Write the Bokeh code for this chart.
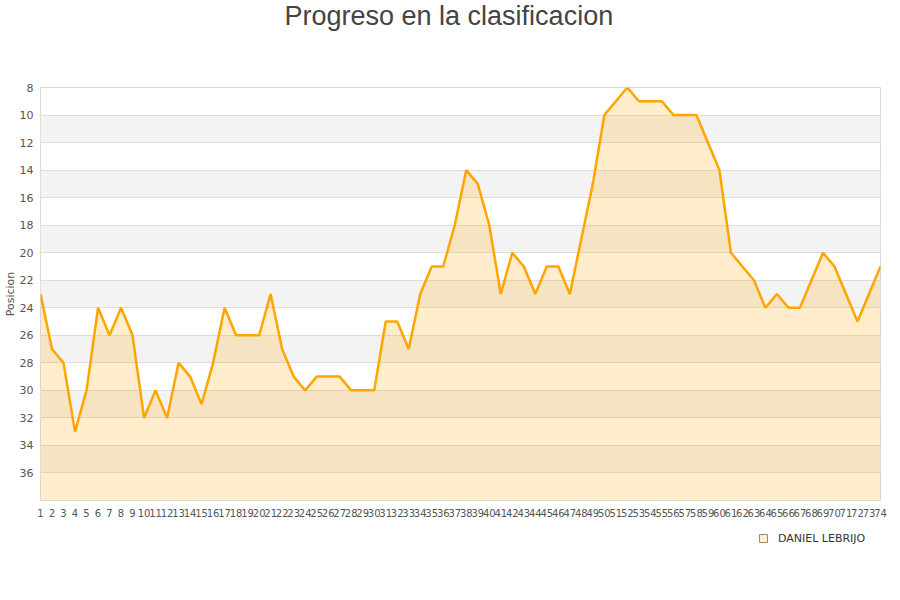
from bokeh.embed import file_html
from bokeh.layouts import column
from bokeh.models import FixedTicker, Legend, LegendItem, Range1d, Title
from bokeh.plotting import figure
from bokeh.resources import INLINE

# jornadas and position in the table after each one
jornadas = list(range(1, 75))
posiciones = [23, 27, 28, 33, 30, 24, 26, 24, 26, 32,
              30, 32, 28, 29, 31, 28, 24, 26, 26, 26,
              23, 27, 29, 30, 29, 29, 29, 30, 30, 30,
              25, 25, 27, 23, 21, 21, 18, 14, 15, 18,
              23, 20, 21, 23, 21, 21, 23, 19, 15, 10,
              9, 8, 9, 9, 9, 10, 10, 10, 12, 14,
              20, 21, 22, 24, 23, 24, 24, 22, 20, 21,
              23, 25, 23, 21]
y_ticks = list(range(8, 37, 2))
y_min, y_max = 8, 38
jugador = 'DANIEL LEBRIJO'
titulo = 'Progreso en la clasificacion'

fondo = [y_max]*len(jornadas)
naranja = '#ffa500'

p = figure(width=892, height=528,
           x_range=Range1d(jornadas[0], jornadas[-1]),
           y_range=Range1d(y_max, y_min),
           output_backend='svg', toolbar_location=None,
           min_border_left=40, min_border_right=12,
           min_border_top=87, min_border_bottom=28)

# empty title used as a spacer, then the real title on top of it
p.add_layout(Title(text=' ', text_font_size='1px', standoff=52), 'above')
p.add_layout(Title(text=titulo, text_font='Liberation Sans',
                   text_font_size='27px', text_font_style='normal',
                   text_color='#444444', align='left', offset=244,
                   vertical_align='top', standoff=0), 'above')

p.outline_line_color = '#d9d9d9'
p.background_fill_color = 'white'
p.border_fill_color = 'white'

p.xgrid.visible = False
p.ygrid.grid_line_color = '#dddddd'
p.ygrid.band_fill_color = '#f3f3f3'
p.ygrid.band_fill_alpha = 1.0

p.xaxis.ticker = FixedTicker(ticks=jornadas)
p.yaxis.ticker = FixedTicker(ticks=y_ticks)
for ax in (p.xaxis, p.yaxis):
    ax.axis_line_color = None
    ax.major_tick_line_color = None
    ax.minor_tick_line_color = None
    ax.major_tick_out = 0
    ax.major_tick_in = 0
    ax.major_label_text_font = 'DejaVu Sans'
    ax.major_label_text_color = '#555555'
p.xaxis.major_label_text_font_size = '10px'
p.xaxis.major_label_standoff = 8
p.yaxis.major_label_text_font_size = '11px'
p.yaxis.major_label_standoff = 7
p.yaxis.axis_label = 'Posicion'
p.yaxis.axis_label_text_font = 'DejaVu Sans'
p.yaxis.axis_label_text_font_size = '11px'
p.yaxis.axis_label_text_font_style = 'normal'
p.yaxis.axis_label_text_color = '#555555'
p.yaxis.axis_label_standoff = 0

p.varea(x=jornadas, y1=posiciones, y2=fondo,
        fill_color=naranja, fill_alpha=0.2)
p.line(jornadas, posiciones, line_color=naranja, line_width=2.5)

# legend strip under the chart
q = figure(width=892, height=64, output_backend='svg',
           toolbar_location=None, x_axis_location=None,
           y_axis_location=None, min_border=0)
q.outline_line_color = None
q.grid.visible = False
# invisible points, only there to give the legend its square
marca = q.scatter(jornadas, posiciones, marker='square', size=0,
                  fill_color='#ffedcc', line_color='#9c8a6e')
legend = Legend(items=[LegendItem(label=jugador, renderers=[marca])],
                location=(713, 44), padding=0, margin=0,
                glyph_width=20, glyph_height=20, label_standoff=5,
                border_line_color=None, background_fill_alpha=0,
                label_text_font='DejaVu Sans', label_text_font_size='11px',
                label_text_color='#333333')
q.add_layout(legend, 'center')

open('out.html', 'w').write(file_html(column(p, q), INLINE))
